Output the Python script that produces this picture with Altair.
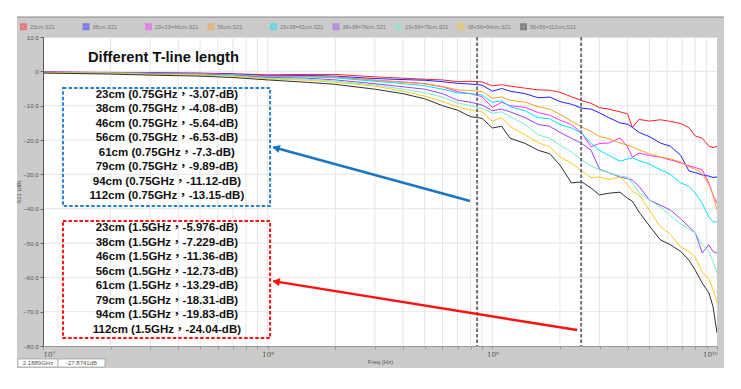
import altair as alt
import pandas as pd

# ---------------- data ----------------
FREQ_GHZ = [0.01, 0.02, 0.03, 0.05, 0.07, 0.1, 0.15, 0.2, 0.3, 0.4, 0.5, 0.6, 0.7, 0.8, 0.9,
            1.0, 1.1, 1.2, 1.4, 1.6, 1.8, 2.0, 2.25, 2.5, 2.75, 3.0, 3.3, 3.7, 4.0, 4.2, 4.5,
            5.0, 5.6, 6.2, 6.9, 7.5, 8.0, 8.6, 9.2, 9.6, 10.0]

SERIES = ["23cm.S21", "38cm.S21", "23+23=46cm.S21", "56cm.S21", "23+38=61cm.S21",
          "38+38=76cm.S21", "23+56=79cm.S21", "38+56=94cm.S21", "56+56=112cm.S21"]
COLORS = ["#ff2020", "#2020ff", "#ff30ff", "#ffa020", "#00e0ff",
          "#a040f0", "#70f0d0", "#ffc820", "#303030"]

S21_23 = [-0.2, -0.3, -0.4, -0.5, -0.7, -1.0, -0.9, -0.9, -1.6, -2.0, -2.3, -2.5, -3.0, -2.9, -3.1,
          -4.2, -3.9, -4.3, -4.9, -5.4, -5.5, -6.1, -7.4, -8.5, -9.3, -10.6, -11.0, -11.8, -12.4, -16.3,
          -14.0, -14.5, -14.1, -14.6, -15.2, -16.4, -18.8, -19.5, -21.8, -22.2, -21.9]
S21_38 = [-0.2, -0.4, -0.5, -0.6, -0.8, -1.3, -1.2, -1.4, -2.1, -2.4, -2.6, -3.0, -3.5, -3.7, -4.0,
          -5.8, -5.0, -5.8, -6.5, -7.7, -7.5, -8.8, -9.6, -10.7, -11.0, -12.1, -13.5, -15.0, -15.4, -16.3,
          -17.8, -19.0, -20.9, -21.8, -24.5, -29.0, -29.5, -30.2, -30.5, -30.9, -30.8]
S21_46 = [-0.3, -0.4, -0.6, -0.7, -0.9, -1.4, -1.4, -1.6, -2.6, -3.1, -3.6, -4.5, -5.9, -6.5, -7.4,
          -10.5, -9.0, -10.0, -10.5, -12.0, -12.8, -14.2, -15.5, -18.0, -22.0, -21.0, -20.9, -19.4, -22.0, -25.0,
          -23.8, -24.5, -25.0, -25.8, -26.7, -27.5, -28.0, -28.7, -32.5, -36.0, -38.4]
S21_56 = [-0.3, -0.4, -0.6, -0.8, -1.0, -1.5, -1.5, -1.7, -2.6, -3.2, -3.6, -4.4, -5.4, -5.6, -5.9,
          -7.8, -7.5, -8.4, -9.0, -10.3, -11.0, -12.5, -14.5, -16.2, -17.5, -19.0, -19.6, -20.9, -21.5, -22.0,
          -22.9, -24.0, -25.0, -25.5, -26.4, -27.8, -28.5, -29.8, -33.0, -36.0, -40.4]
S21_61 = [-0.3, -0.5, -0.6, -0.8, -1.0, -1.6, -1.6, -1.9, -2.9, -3.6, -4.2, -5.2, -6.3, -6.5, -6.9,
          -9.0, -8.6, -10.3, -11.5, -13.5, -13.8, -15.5, -16.5, -18.0, -21.0, -23.0, -24.5, -26.2, -25.5, -25.2,
          -26.0, -27.0, -28.7, -30.0, -32.5, -33.5, -35.4, -38.5, -42.4, -43.8, -43.9]
S21_76 = [-0.3, -0.5, -0.7, -0.9, -1.2, -1.8, -2.0, -2.5, -3.6, -4.5, -5.2, -6.5, -8.4, -9.0, -9.8,
          -11.5, -11.0, -11.8, -13.5, -15.5, -16.0, -17.8, -19.5, -21.0, -23.0, -28.5, -29.5, -30.8, -31.2, -31.7,
          -33.5, -37.5, -39.0, -40.4, -43.0, -45.3, -47.0, -52.9, -50.5, -52.5, -52.9]
S21_79 = [-0.4, -0.5, -0.8, -1.0, -1.3, -2.0, -2.3, -2.8, -4.0, -5.2, -6.2, -7.5, -9.2, -10.0, -10.8,
          -12.2, -11.8, -13.2, -15.5, -18.5, -19.5, -21.5, -23.5, -25.8, -27.5, -28.7, -29.5, -30.5, -30.8, -32.5,
          -35.4, -37.5, -39.5, -42.0, -44.5, -46.0, -47.1, -50.5, -52.5, -55.5, -58.7]
S21_94 = [-0.4, -0.6, -0.9, -1.1, -1.4, -2.2, -2.6, -3.2, -4.3, -5.8, -7.2, -8.8, -10.3, -11.3, -11.8,
          -14.5, -13.5, -16.1, -18.5, -20.8, -22.0, -25.0, -26.7, -29.0, -31.0, -30.8, -31.5, -30.8, -33.0, -35.0,
          -36.0, -40.4, -45.3, -47.5, -51.2, -52.5, -54.1, -58.5, -60.5, -63.5, -67.5]
S21_112 = [-0.5, -0.8, -1.1, -1.4, -1.8, -2.5, -3.2, -3.8, -5.2, -6.5, -8.0, -10.0, -11.3, -13.2, -13.7,
           -16.5, -16.0, -19.5, -21.0, -23.0, -24.0, -27.3, -32.5, -32.2, -34.0, -36.0, -35.5, -35.2, -37.0, -37.8,
           -41.0, -45.0, -49.1, -50.5, -52.5, -55.0, -57.9, -61.7, -64.5, -68.5, -76.2]

MARKER_FREQS_HZ = [8.555e8, 2.485e9]

BLUE_LINES = ["23cm (0.75GHz，-3.07-dB)", "38cm (0.75GHz，-4.08-dB)", "46cm (0.75GHz，-5.64-dB)",
              "56cm (0.75GHz，-6.53-dB)", "61cm (0.75GHz，-7.3-dB)", "79cm (0.75GHz，-9.89-dB)",
              "94cm (0.75GHz，-11.12-dB)", "112cm (0.75GHz，-13.15-dB)"]
RED_LINES = ["23cm (1.5GHz，-5.976-dB)", "38cm (1.5GHz，-7.229-dB)", "46cm (1.5GHz，-11.36-dB)",
             "56cm (1.5GHz，-12.73-dB)", "61cm (1.5GHz，-13.29-dB)", "79cm (1.5GHz，-18.31-dB)",
             "94cm (1.5GHz，-19.83-dB)", "112cm (1.5GHz，-24.04-dB)"]
TITLE = "Different T-line length"
READOUT = ["2.1889GHz", "-27.8741dB"]

X_TICKS = [m * 10.0 ** e for e in (7, 8, 9) for m in range(1, 10)] + [1e10]
Y_TICKS = [10, 0, -10, -20, -30, -40, -50, -60, -70, -80]

# ---------------- build table ----------------
ALL = [S21_23, S21_38, S21_46, S21_56, S21_61, S21_76, S21_79, S21_94, S21_112]
rows = []
for name, vals in zip(SERIES, ALL):
    for f, v in zip(FREQ_GHZ, vals):
        rows.append({"freq": f * 1e9, "db": v, "series": name})
df = pd.DataFrame(rows)

FONT = "Liberation Sans, Arial, Noto Sans CJK TC"
GRAY = "#cbcbcb"

XS = alt.Scale(type="log", domain=[1e7, 1e10], nice=False)
YS = alt.Scale(domain=[-80, 10], nice=False)

x_axis = alt.Axis(values=X_TICKS, grid=False, zindex=1, tickSize=3, tickColor="#999",
                  domainColor="#999", labelFontSize=7, labelColor="#555", labelPadding=1,
                  labelFont="DejaVu Serif", labelOverlap=False,
                  labelExpr="datum.value == 1e7 ? '10⁷' : datum.value == 1e8 ? '10⁸' : "
                            "datum.value == 1e9 ? '10⁹' : datum.value == 1e10 ? '10¹⁰' : ''",
                  title="Freq (Hz)", titleFontSize=6, titleFontWeight="normal",
                  titleColor="#555", titlePadding=1)
y_axis = alt.Axis(values=Y_TICKS, grid=False, zindex=1, tickSize=3, tickColor="#666",
                  domainColor="#555", labelFontSize=6, labelColor="#555", labelPadding=2,
                  labelExpr="datum.value == 0 ? '0' : format(datum.value, '.1f')",
                  title="S21 (dB)", titleFontSize=6, titleFontWeight="normal",
                  titleColor="#555", titlePadding=1)


def X(field="freq"):
    return alt.X(field, type="quantitative", scale=XS, axis=x_axis)


def Y(field="db"):
    return alt.Y(field, type="quantitative", scale=YS, axis=y_axis)


one = pd.DataFrame({"k": [0]})


# gray instrument frame around the plot area
def strip(x0, x1, y0, y1):
    return alt.Chart(one).mark_rect(color=GRAY).encode(
        x=alt.value(x0), x2=alt.value(x1), y=alt.value(y0), y2=alt.value(y1))


frame = [strip(-26, 681, -20, 0), strip(-26, 681, 309, 331),
         strip(-26, 0, 0, 309), strip(674, 681, 0, 309),
         alt.Chart(one).mark_rule(color="#888", strokeWidth=1).encode(
             x=alt.value(-26), x2=alt.value(681), y=alt.value(-20))]

vgrid = alt.Chart(pd.DataFrame({"freq": X_TICKS[1:-1]})).mark_rule(
    color="#e6e6e6", strokeWidth=1).encode(x=X())
hgrid = alt.Chart(pd.DataFrame({"db": Y_TICKS[1:-1]})).mark_rule(
    color="#e6e6e6", strokeWidth=1).encode(y=Y())

curves = alt.Chart(df).mark_line(strokeWidth=1, clip=True).encode(
    x=X(), y=Y(),
    color=alt.Color("series:N", scale=alt.Scale(domain=SERIES, range=COLORS),
                    legend=alt.Legend(orient="none", legendX=-23, legendY=-14,
                                      direction="horizontal", columns=9, gridAlign="all",
                                      columnPadding=0.5, symbolType="square", symbolSize=16,
                                      symbolStrokeWidth=3, symbolOpacity=0.45,
                                      labelFontSize=5.5, labelColor="#777", labelOffset=3,
                                      title=None, padding=0)),
)

markers = alt.Chart(pd.DataFrame({"freq": MARKER_FREQS_HZ})).mark_rule(
    color="#707070", strokeWidth=2, strokeDash=[3.5, 2]).encode(x=X())

# annotation boxes / arrows / texts (anchored in data coordinates)
blue_box = alt.Chart(pd.DataFrame({"freq": [1.227e7], "freq2": [1.025e8], "db": [-4.86], "db2": [-39.23]})
                     ).mark_rect(fillOpacity=0, stroke="#2a7fd0", strokeWidth=2, strokeDash=[3.5, 2]
                                 ).encode(x=X(), x2="freq2", y=Y(), y2="db2")
red_box = alt.Chart(pd.DataFrame({"freq": [1.227e7], "freq2": [1.025e8], "db": [-43.6], "db2": [-77.68]})
                    ).mark_rect(fillOpacity=0, stroke="#ff1010", strokeWidth=2, strokeDash=[3.5, 2]
                                ).encode(x=X(), x2="freq2", y=Y(), y2="db2")

blue_arrow = alt.Chart(pd.DataFrame({"freq": [7.96e8], "freq2": [1.06e8], "db": [-37.77], "db2": [-22.1]})
                       ).mark_rule(color="#1b75c4", strokeWidth=2.5).encode(x=X(), x2="freq2", y=Y(), y2="db2")
red_arrow = alt.Chart(pd.DataFrame({"freq": [2.385e9], "freq2": [1.06e8], "db": [-75.35], "db2": [-61.1]})
                      ).mark_rule(color="#ff1010", strokeWidth=2.5).encode(x=X(), x2="freq2", y=Y(), y2="db2")
blue_head = alt.Chart(pd.DataFrame({"freq": [1.09e8], "db": [-22.33]})).mark_point(
    shape="triangle-left", filled=True, size=70, angle=15.3, color="#1b75c4", opacity=1
).encode(x=X(), y=Y())
red_head = alt.Chart(pd.DataFrame({"freq": [1.09e8], "db": [-61.25]})).mark_point(
    shape="triangle-left", filled=True, size=70, angle=9.1, color="#ff1010", opacity=1
).encode(x=X(), y=Y())

title_txt = alt.Chart(pd.DataFrame({"freq": [1.586e7], "db": [2.72]})).mark_text(
    text=TITLE, font=FONT, fontSize=14.7, fontWeight="bold", align="left",
    baseline="alphabetic", color="#111").encode(x=X(), y=Y())
# multi-line blocks: y is the centre of the first line
blue_txt = alt.Chart(pd.DataFrame({"freq": [3.56e7], "db": [-6.89]})).mark_text(
    text=BLUE_LINES, font=FONT, fontSize=11.5, fontWeight="bold", lineHeight=14.5,
    align="center", baseline="middle", color="#111").encode(x=X(), y=Y())
red_txt = alt.Chart(pd.DataFrame({"freq": [3.56e7], "db": [-45.64]})).mark_text(
    text=RED_LINES, font=FONT, fontSize=11.5, fontWeight="bold", lineHeight=14.5,
    align="center", baseline="middle", color="#111").encode(x=X(), y=Y())

# marker read-out boxes at the bottom of the instrument frame
readout = []
for (x0, x1), label in zip([(-25, 15), (15, 62)], READOUT):
    readout.append(alt.Chart(one).mark_rect(fill="white", stroke="#999", strokeWidth=0.7).encode(
        x=alt.value(x0), x2=alt.value(x1), y=alt.value(322), y2=alt.value(330)))
    readout.append(alt.Chart(one).mark_text(text=label, fontSize=6, color="#555",
                                            align="center", baseline="middle").encode(
        x=alt.value((x0 + x1) / 2), y=alt.value(326)))

chart = alt.layer(
    *frame, vgrid, hgrid, curves, markers, blue_box, red_box,
    blue_arrow, red_arrow, blue_head, red_head, title_txt, blue_txt, red_txt, *readout
).properties(
    width=674, height=309,
    autosize=alt.AutoSizeParams(type="none"),
    padding={"left": 35, "top": 29, "right": 10, "bottom": 30},
    background="white",
).configure_view(stroke=None).configure(font="Liberation Sans")

chart.save("out.html", embed_options={"renderer": "svg", "actions": False})
